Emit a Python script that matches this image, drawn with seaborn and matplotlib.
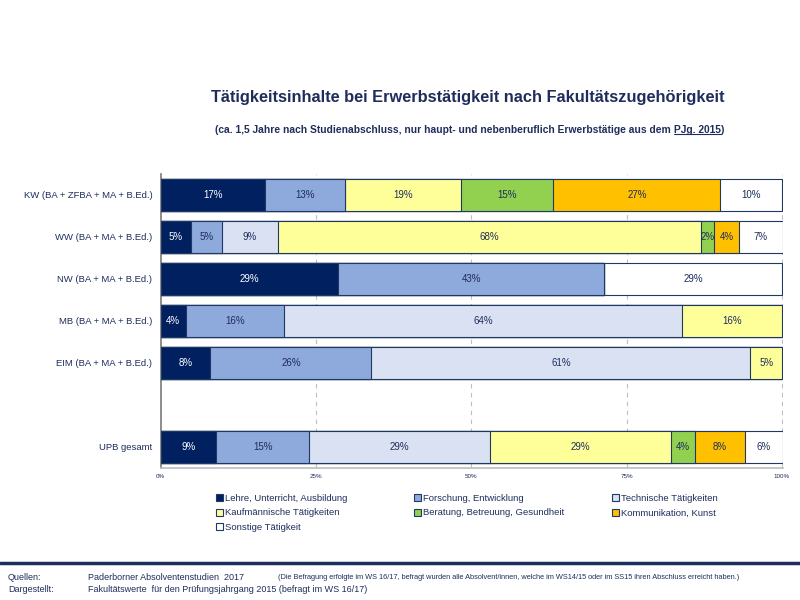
import numpy as np
import pandas as pd
import matplotlib
matplotlib.use("Agg")
import matplotlib.pyplot as plt
from matplotlib.patches import Patch
from matplotlib.lines import Line2D
import seaborn as sns

# ------------------------------------------------------------
# data (shares in %)
# ------------------------------------------------------------
rows = ["KW (BA + ZFBA + MA + B.Ed.)", "WW (BA + MA + B.Ed.)", "NW (BA + MA + B.Ed.)",
        "MB (BA + MA + B.Ed.)", "EIM (BA + MA + B.Ed.)", " ", "UPB gesamt"]

categories = ["Lehre, Unterricht, Ausbildung", "Forschung, Entwicklung",
              "Technische Tätigkeiten", "Kaufmännische Tätigkeiten",
              "Beratung, Betreuung, Gesundheit", "Kommunikation, Kunst",
              "Sonstige Tätigkeit"]

lehre         = [16.8, 4.9, 28.6, 4.0, 8.0, 8.9]
forschung     = [12.8, 4.9, 42.8, 15.9, 25.9, 15.0]
technisch     = [0.0, 9.1, 0.0, 64.0, 61.0, 29.1]
kaufmaennisch = [18.8, 68.1, 0.0, 16.1, 5.1, 29.1]
beratung      = [14.8, 2.1, 0.0, 0.0, 0.0, 3.9]
kommunikation = [26.9, 4.0, 0.0, 0.0, 0.0, 8.0]
sonstige      = [9.9, 7.0, 28.6, 0.0, 0.0, 6.1]

data_rows = [r for r in rows if r.strip()]
colors = ["#002060", "#8EA9DB", "#D9E1F2", "#FFFF99", "#92D050", "#FFC000", "#FFFFFF"]
NAVY = "#1F2D5C"
EDGE = "#1F3864"

df = pd.DataFrame({"row": data_rows})
for cat, vals in zip(categories, [lehre, forschung, technisch, kaufmaennisch,
                                  beratung, kommunikation, sonstige]):
    df[cat] = vals

# cumulative ends for stacking
cum = df[categories].cumsum(axis=1)

sns.set_theme(style="white")
plt.rcParams["font.family"] = ["Liberation Sans", "DejaVu Sans"]

fig = plt.figure(figsize=(8, 6), dpi=100)
ax = fig.add_axes([0.201, 0.22, 0.778, 0.49])

# draw from the last segment backwards so the earlier ones sit on top
for i in range(len(categories) - 1, -1, -1):
    plot_df = pd.DataFrame({"row": data_rows, "end": cum[categories[i]].values})
    sns.barplot(data=plot_df, x="end", y="row", order=rows, orient="h",
                color=colors[i], saturation=1, width=0.78,
                edgecolor=EDGE, linewidth=0.8, ax=ax, zorder=3)

# segment labels
for i, cat in enumerate(categories):
    for j, r in enumerate(data_rows):
        v = df.loc[j, cat]
        if v <= 0:
            continue
        center = cum.loc[j, cat] - v / 2
        ypos = rows.index(r)
        ax.text(center, ypos, f"{round(v):.0f}%", ha="center", va="center",
                fontsize=7, color="white" if i == 0 else NAVY, zorder=5)

ax.set_xlim(0, 100.2)
ax.set_ylim(len(rows) - 0.5, -0.5)
ax.set_xlabel("")
ax.set_ylabel("")
ax.set_xticks([0, 25, 50, 75, 100])
ax.set_xticklabels(["0%", "25%", "50%", "75%", "100%"], fontsize=4.5, color=NAVY)
ax.tick_params(axis="x", length=0, pad=4)
for gx in [25, 50, 75, 100]:
    ax.axvline(gx, color="#BFBFBF", linestyle=(0, (4, 4)), linewidth=0.8, zorder=1)

ax.set_yticks(range(len(rows)))
ax.set_yticklabels(rows, fontsize=6.8, color=NAVY)
ax.tick_params(axis="y", which="major", length=0, pad=6)
ax.set_yticks(np.arange(-0.5, len(rows), 1), minor=True)
ax.tick_params(axis="y", which="minor", length=4, color="#808080", width=0.8)

for side in ["top", "right"]:
    ax.spines[side].set_visible(False)
ax.spines["left"].set_color("#808080")
ax.spines["bottom"].set_color("#BFBFBF")

# legend: three columns, each placed on its own
handles = [Patch(facecolor=c, edgecolor=EDGE, linewidth=0.8) for c in colors]
legend_cols = [[0, 3, 6], [1, 4], [2, 5]]
legend_x = [0.265, 0.5125, 0.760]
for idx, lx in zip(legend_cols, legend_x):
    fig.legend([handles[k] for k in idx], [categories[k] for k in idx],
               loc="upper left", bbox_to_anchor=(lx, 0.183),
               frameon=False, fontsize=6.8, handlelength=0.8, handleheight=0.8,
               handletextpad=0.2, labelspacing=0.58, borderaxespad=0,
               borderpad=0.4, labelcolor=NAVY)

# titles
fig.text(0.585, 0.838, "Tätigkeitsinhalte bei Erwerbstätigkeit nach Fakultätszugehörigkeit",
         ha="center", va="center", fontsize=11.8, fontweight="bold", color=NAVY)

sub_main = "(ca. 1,5 Jahre nach Studienabschluss, nur haupt- und nebenberuflich Erwerbstätige aus dem "
fs_sub = 7.4
t1 = fig.text(0.269, 0.783, sub_main, ha="left", va="center", fontsize=fs_sub,
              fontweight="bold", color=NAVY)
fig.canvas.draw()
renderer = fig.canvas.get_renderer()
bb1 = t1.get_window_extent(renderer).transformed(fig.transFigure.inverted())
t2 = fig.text(bb1.x1, 0.783, "PJg. 2015", ha="left", va="center", fontsize=fs_sub,
              fontweight="bold", color=NAVY)
bb2 = t2.get_window_extent(renderer).transformed(fig.transFigure.inverted())
fig.text(bb2.x1, 0.783, ")", ha="left", va="center", fontsize=fs_sub,
         fontweight="bold", color=NAVY)
fig.add_artist(Line2D([bb2.x0, bb2.x1], [bb2.y0 + 0.002, bb2.y0 + 0.002],
                      transform=fig.transFigure, color=NAVY, linewidth=0.8))

# footer
fig.add_artist(Line2D([0, 1], [0.062, 0.062], transform=fig.transFigure,
                      color=NAVY, linewidth=2.5))
fig.text(0.01, 0.038, "Quellen:", fontsize=6.5, color=NAVY, va="center")
fig.text(0.11, 0.038, "Paderborner Absolventenstudien  2017", fontsize=6.5,
         color=NAVY, va="center")
fig.text(0.347, 0.038, "(Die Befragung erfolgte im WS 16/17, befragt wurden alle Absolvent/innen, "
         "welche im WS14/15 oder im SS15 ihren Abschluss erreicht haben.)",
         fontsize=5.35, color=NAVY, va="center")
fig.text(0.01, 0.017, "Dargestellt:", fontsize=6.5, color=NAVY, va="center")
fig.text(0.11, 0.017, "Fakultätswerte  für den Prüfungsjahrgang 2015 (befragt im WS 16/17)",
         fontsize=6.5, color=NAVY, va="center")

fig.savefig("out.png", dpi=100)
